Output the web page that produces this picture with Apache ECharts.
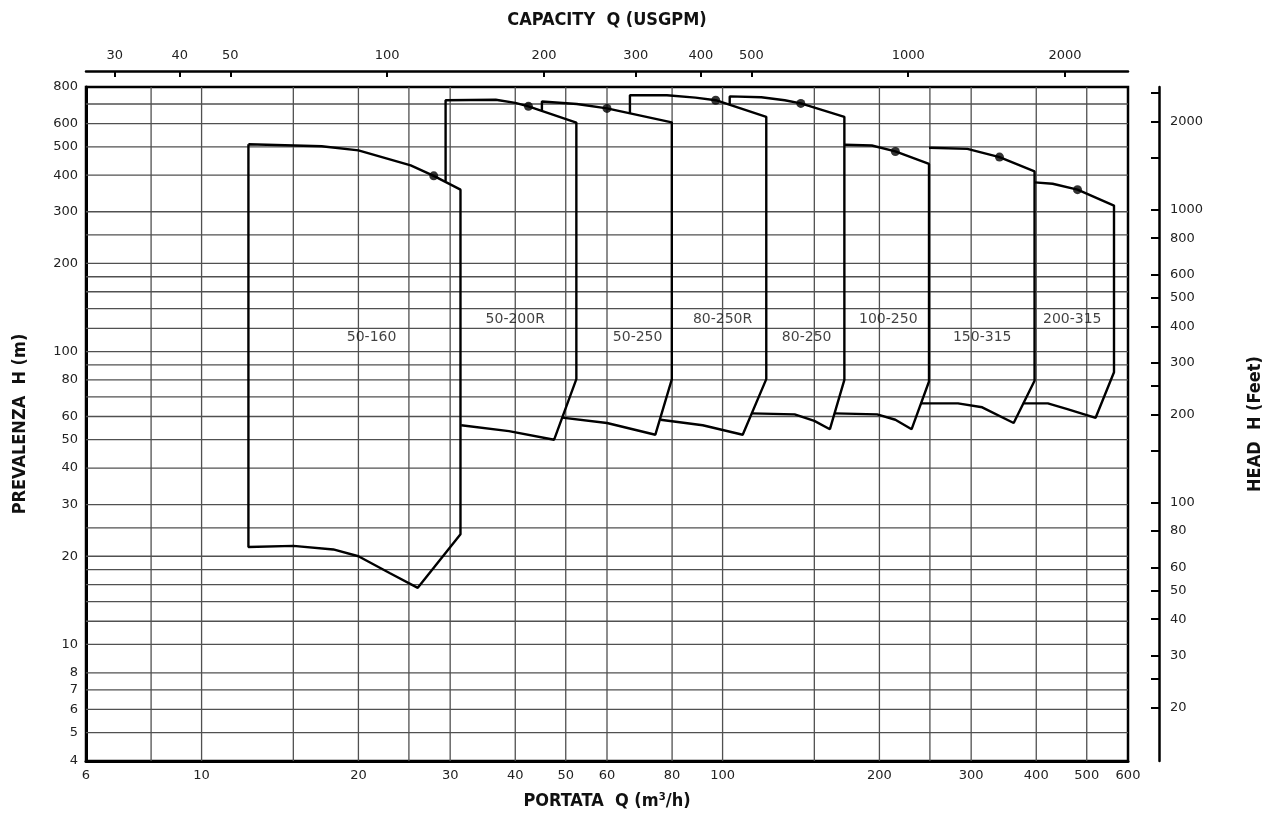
<!DOCTYPE html>
<html>
<head>
<meta charset="utf-8">
<title>Campo di selezione pompe</title>
<script src="https://cdn.jsdelivr.net/npm/echarts@6.0.0/dist/echarts.min.js"></script>
<style>
  html, body { margin: 0; padding: 0; background: #fff; }
  #chart { width: 1272px; height: 820px; }
</style>
</head>
<body>
<div id="chart"></div>
<script>
// axis ranges (flow in m3/h, head in m) and unit conversions for the secondary axes
const flowMin = 6, flowMax = 600;
const headMin = 4, headMax = 800;
const M3H_TO_GPM = 4.403;
const M_TO_FT = 3.2808;

const flowLabels = [6, 10, 20, 30, 40, 50, 60, 80, 100, 200, 300, 400, 500, 600];
const flowGrid = [8, 10, 15, 20, 25, 30, 40, 50, 60, 80, 100, 150, 200, 250, 300, 400, 500];
const headLabels = [4, 5, 6, 7, 8, 10, 20, 30, 40, 50, 60, 80, 100, 200, 300, 400, 500, 600, 800];
const headGrid = [5, 6, 7, 8, 10, 12, 14, 16, 18, 20, 25, 30, 40, 50, 60, 70, 80, 90, 100, 120, 140, 160, 180, 200, 250, 300, 400, 500, 600, 700];
const gpmLabels = [30, 40, 50, 100, 200, 300, 400, 500, 1000, 2000];
const feetTicks = [20, 25, 30, 40, 50, 60, 80, 100, 150, 200, 250, 300, 400, 500, 600, 800, 1000, 1500, 2000, 2500];
const feetLabels = [20, 30, 40, 50, 60, 80, 100, 200, 300, 400, 500, 600, 800, 1000, 2000];

// pump envelopes, [Q m3/h, H m] along the outline
const env50_160 = [[12.3, 510], [17, 502], [20, 486], [25.2, 432], [27.9, 398], [31.4, 357], [31.4, 23.8], [26.0, 15.6], [23.0, 17.5], [20, 20], [17.9, 21.1], [15, 21.7], [12.3, 21.5], [12.3, 510]];
const env50_200R = [[29.4, 382], [29.4, 721], [36.7, 724], [40, 706], [42.4, 687], [52.4, 605], [52.4, 80.5], [47.5, 50], [38.9, 53.5], [31.5, 56]];
const env50_250 = [[45.0, 664], [45.0, 714], [52.5, 700], [60, 676], [79.9, 606], [79.9, 80.3], [74.3, 52], [60, 57], [49.2, 59.5]];
const env80_250R = [[66.4, 650], [66.4, 750], [78.2, 750], [88.7, 736], [97, 721], [121.3, 633], [121.3, 80.5], [109.3, 52], [91.6, 56], [76, 58.5]];
const env80_250 = [[103.2, 697], [103.2, 743], [118.7, 738], [131.6, 721], [141.3, 703], [171.3, 633], [171.3, 80], [160.7, 54.3], [150, 58], [137.5, 61], [113.7, 61.5]];
const env100_250 = [[171.3, 508], [193.4, 505], [214.6, 482], [249, 437], [249, 79], [230.6, 54.3], [214.6, 58.5], [198, 61], [164.2, 61.5]];
const env150_315 = [[249, 496], [295, 492], [340, 461], [397, 412], [397, 79.5], [362, 57], [315, 64.5], [283, 66.5], [240, 66.5]];
const env200_315 = [[397, 378], [430, 374], [480, 357], [564, 315], [564, 85], [520, 59.4], [459, 63.6], [421, 66.5], [377, 66.5]];

const pumpNames = ['50-160', '50-200R', '50-250', '80-250R', '80-250', '100-250', '150-315', '200-315'];
const nameSpots = [[21.2, 112], [40, 129], [68.7, 112], [100, 129], [145, 112], [208, 129], [315, 112], [469, 129]];
const bepPoints = [[27.9, 398], [42.4, 687], [60, 676], [97, 721], [141.3, 703], [214.6, 482], [340, 461], [480, 357]];

const envelopes = [env50_160, env50_200R, env50_250, env80_250R, env80_250, env100_250, env150_315, env200_315];

const chart = echarts.init(document.getElementById('chart'));

const tickFont = { color: '#222', fontSize: 13, fontFamily: 'DejaVu Sans' };
const titleFont = {
  color: '#111', fontSize: 18, fontWeight: 'bold',
  fontFamily: "'DejaVu Sans Condensed', 'DejaVu Sans', sans-serif"
};
const fmt = (v) => String(+Number(v).toPrecision(6));

const series = [];

// grid lines
flowGrid.forEach((v) => {
  series.push({
    type: 'line', data: [[v, headMin], [v, headMax]],
    symbol: 'none', silent: true, z: 1,
    lineStyle: { color: '#505050', width: 1.3 }
  });
});
headGrid.forEach((v) => {
  series.push({
    type: 'line', data: [[flowMin, v], [flowMax, v]],
    symbol: 'none', silent: true, z: 1,
    lineStyle: { color: '#505050', width: 1.3 }
  });
});

envelopes.forEach((env, i) => {
  series.push({
    name: pumpNames[i], type: 'line', data: env,
    symbol: 'none', z: 3,
    lineStyle: { color: '#000', width: 2.4 }
  });
});

series.push({
  type: 'scatter', data: bepPoints, symbolSize: 9, z: 4,
  itemStyle: { color: '#000' }
});

series.push({
  type: 'scatter', z: 5, symbolSize: 1,
  itemStyle: { color: 'transparent' },
  data: pumpNames.map((n, i) => ({ name: n, value: nameSpots[i] })),
  label: {
    show: true, position: 'inside', formatter: '{b}',
    color: '#111', fontSize: 14, fontFamily: 'DejaVu Sans'
  }
});

const option = {
  animation: false,
  backgroundColor: '#fff',
  grid: {
    left: 86, right: 144, top: 87, bottom: 59,
    outerBoundsMode: 'none', containLabel: false,
    show: true, borderColor: '#000', borderWidth: 2.5, backgroundColor: 'transparent'
  },
  xAxis: [
    {
      type: 'log', logBase: 10, min: flowMin, max: flowMax, position: 'bottom',
      name: 'PORTATA  Q (m³/h)', nameLocation: 'middle', nameGap: 31, nameMoveOverlap: false,
      nameTextStyle: titleFont,
      axisLine: { show: true, onZero: false, lineStyle: { color: '#000', width: 3 } },
      axisTick: { show: false },
      axisLabel: Object.assign({ customValues: flowLabels, margin: 8, formatter: fmt }, tickFont),
      splitLine: { show: false }
    },
    {
      type: 'log', logBase: 10, min: flowMin * M3H_TO_GPM, max: flowMax * M3H_TO_GPM,
      position: 'top', offset: 16,
      name: 'CAPACITY  Q (USGPM)', nameLocation: 'middle', nameGap: 42, nameMoveOverlap: false,
      nameTextStyle: titleFont,
      axisLine: { show: true, onZero: false, lineStyle: { color: '#000', width: 2.5 } },
      axisTick: { show: true, inside: true, length: 6, customValues: gpmLabels, lineStyle: { color: '#000', width: 2 } },
      axisLabel: Object.assign({ customValues: gpmLabels, margin: 9, formatter: fmt }, tickFont),
      splitLine: { show: false }
    }
  ],
  yAxis: [
    {
      type: 'log', logBase: 10, min: headMin, max: headMax, position: 'left',
      name: 'PREVALENZA  H (m)', nameLocation: 'middle', nameGap: 57, nameRotate: 90, nameMoveOverlap: false,
      nameTextStyle: titleFont,
      axisLine: { show: true, onZero: false, lineStyle: { color: '#000', width: 3 } },
      axisTick: { show: false },
      axisLabel: Object.assign({ customValues: headLabels, margin: 8, formatter: fmt }, tickFont),
      splitLine: { show: false }
    },
    {
      type: 'log', logBase: 10, min: headMin * M_TO_FT, max: headMax * M_TO_FT,
      position: 'right', offset: 31,
      name: 'HEAD  H (Feet)', nameLocation: 'middle', nameGap: 87, nameRotate: 90, nameMoveOverlap: false,
      nameTextStyle: titleFont,
      axisLine: { show: true, onZero: false, lineStyle: { color: '#000', width: 2.5 } },
      axisTick: { show: true, inside: true, length: 8, customValues: feetTicks, lineStyle: { color: '#000', width: 2 } },
      axisLabel: Object.assign({ customValues: feetLabels, margin: 11, formatter: fmt }, tickFont),
      splitLine: { show: false }
    }
  ],
  series: series.map((s) => Object.assign({ xAxisIndex: 0, yAxisIndex: 0 }, s))
};

chart.setOption(option);
</script>
</body>
</html>
